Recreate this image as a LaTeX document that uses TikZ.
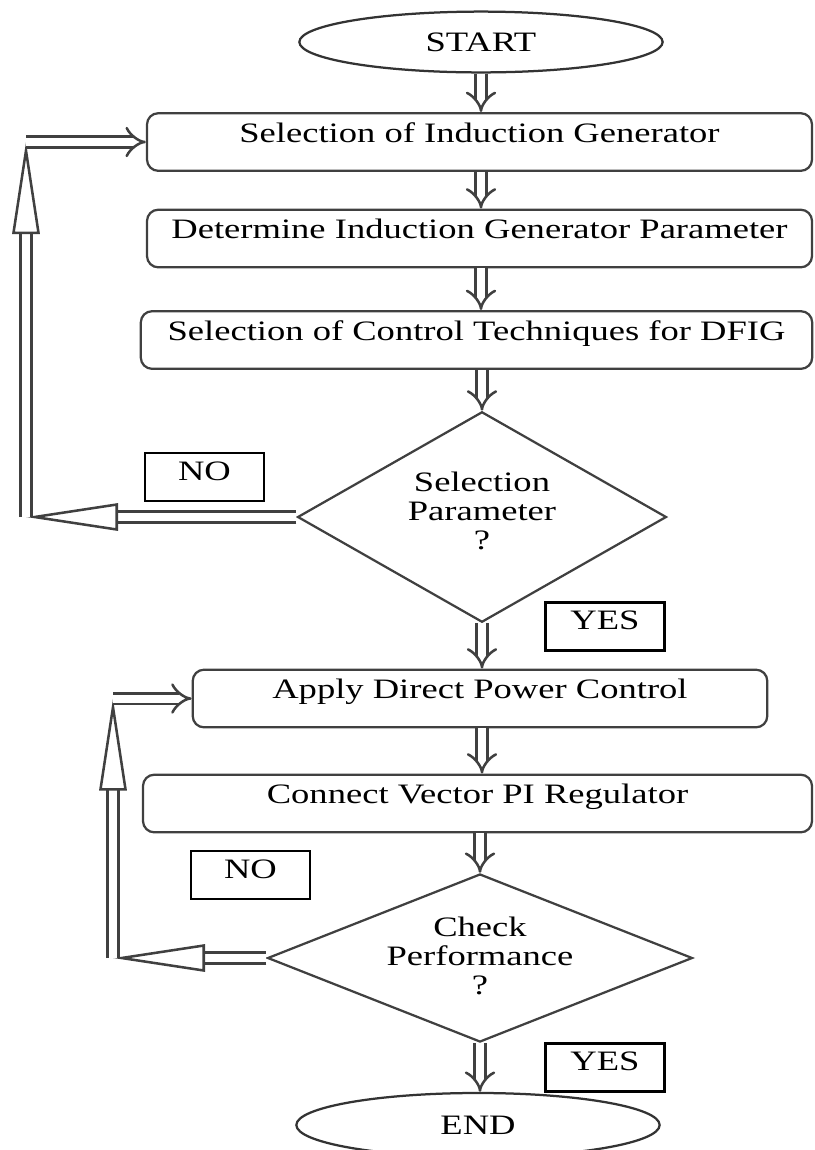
\documentclass[tikz,border=0pt]{standalone}
\usepackage{fontspec}
\setmainfont{Liberation Serif}[FakeStretch=1.3]
\usetikzlibrary{shapes.geometric,arrows.meta}

\tikzset{
  procbox/.style={draw=black!75, line width=0.8pt, rounded corners=4pt, minimum height=0.72cm,
    text height=0.28cm, text depth=0.28cm, inner ysep=0.08cm},
  decision/.style={draw=black!75, line width=0.8pt, diamond, inner sep=0pt},
  terminal/.style={draw=black!80, line width=0.8pt, ellipse, inner sep=0pt},
  tagbox/.style={draw, line width=0.8pt, minimum width=1.49cm, minimum height=0.6cm,
    text height=0.29cm, text depth=0.21cm, inner ysep=0.05cm},
  flow/.style={draw=black!75, line width=0.9pt, double, double distance=0.1cm, -{Implies}},
  backflow/.style={draw=black!75, line width=0.9pt, double, double distance=0.1cm,
    -{Stealth[open, length=1.15cm, width=0.34cm, inset=0pt]}},
}

\begin{document}
\begin{tikzpicture}[x=0.0125cm, y=-0.0125cm, font=\fontsize{10}{10.3}\selectfont]
  \useasboundingbox (0,0) rectangle (815,1150);
  \clip (0,0) rectangle (815,1150);

  % Nodes
  \node[terminal, minimum width=4.54cm, minimum height=0.76cm] at (481, 42) (start) {START};
  \node[procbox, minimum width=8.31cm] at (479.5, 142) (sel) {Selection of Induction Generator};
  \node[procbox, minimum width=8.31cm] at (479.5, 238.5) (param) {Determine Induction Generator Parameter};
  \node[procbox, minimum width=8.39cm] at (476.5, 340) (ctrl) {Selection of Control Techniques for DFIG};
  \node[decision, minimum width=4.61cm, minimum height=2.63cm] at (482, 517) (chk1) {};
  \node[align=center] at (482, 511) {Selection\\Parameter\\?};
  \node[tagbox] at (204.5, 477) (no1) {NO};
  \node[tagbox] at (605, 626.5) (yes1) {YES};
  \node[procbox, minimum width=7.18cm] at (480, 698.5) (dpc) {Apply Direct Power Control};
  \node[procbox, minimum width=8.36cm] at (477.5, 803.5) (pi) {Connect Vector PI Regulator};
  \node[tagbox] at (250.5, 875) (no2) {NO};
  \node[decision, minimum width=5.31cm, minimum height=2.1cm] at (480, 958) (chk2) {};
  \node[align=center] at (480, 956) {Check\\Performance\\?};
  \node[tagbox] at (605, 1067.5) (yes2) {YES};
  \node[terminal, minimum width=4.54cm, minimum height=0.8cm] at (478, 1125) (end) {END};

  % Corners of the loops
  \coordinate (l1) at (26, 517);
  \coordinate (l2) at (26, 142);
  \coordinate (l3) at (113, 958);
  \coordinate (l4) at (113, 698.5);

  % Edges
  \draw[flow] (start) -- (start |- sel.north);
  \draw[flow] (sel.south -| start) -- (param.north -| start);
  \draw[flow] (param.south -| start) -- (ctrl.north -| start);
  \draw[flow] (ctrl.south -| chk1) -- (chk1.north);
  \draw[flow] (chk1.south) -- (dpc.north -| chk1);
  \draw[flow] (dpc.south -| chk1) -- (pi.north -| chk1);
  \draw[flow] (pi.south -| chk2) -- (chk2.north);
  \draw[flow] (chk2.south) -- (end.north -| chk2);

  % Loops
  \draw[backflow] (chk1.west) -- (l1);
  \draw[backflow] (l1) -- (l2);
  \draw[flow] (l2) -- (sel.west);
  \draw[backflow] (chk2.west) -- (l3);
  \draw[backflow] (l3) -- (l4);
  \draw[flow] (l4) -- (dpc.west);
\end{tikzpicture}
\end{document}
